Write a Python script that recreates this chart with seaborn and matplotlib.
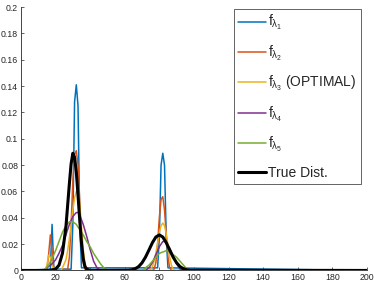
import matplotlib
matplotlib.use("Agg")
import matplotlib.pyplot as plt
import seaborn as sns

# ── Data ──────────────────────────────────────────────────────────────────────
BLUE_X = [0, 17, 18, 19, 29, 30, 31, 32, 33, 34, 35, 79, 80, 81, 82, 83, 84, 85, 200]
BLUE_Y = [0, 0.001, 0.035, 0.001, 0.001, 0.035, 0.128, 0.141, 0.125, 0.035, 0.002,
          0.002, 0.025, 0.080, 0.089, 0.080, 0.025, 0.002, 0]

ORANGE_X = [0, 15, 16, 17, 18, 19, 20, 27, 28, 29, 30, 31, 32, 33, 34, 35, 36, 37, 38,
            76, 77, 78, 79, 80, 81, 82, 83, 84, 85, 86, 87, 200]
ORANGE_Y = [0, 0, 0.012, 0.027, 0.015, 0.002, 0, 0.001, 0.010, 0.035, 0.068, 0.088,
            0.091, 0.080, 0.052, 0.022, 0.006, 0.001, 0,
            0, 0.001, 0.006, 0.020, 0.040, 0.054, 0.056, 0.046, 0.027, 0.010, 0.002, 0, 0]

YELLOW_X = [0, 14, 15, 16, 17, 18, 19, 20, 23, 24, 26, 27, 28, 29, 30, 31, 32, 33, 34,
            35, 36, 37, 38, 39, 74, 75, 76, 77, 78, 79, 80, 81, 82, 83, 84, 85, 86, 87,
            88, 89, 200]
YELLOW_Y = [0, 0, 0.004, 0.0115, 0.010, 0.004, 0.001, 0, 0, 0.002, 0.008, 0.015, 0.024,
            0.035, 0.046, 0.055, 0.060, 0.059, 0.050, 0.033, 0.016, 0.005, 0.001, 0,
            0, 0.001, 0.003, 0.007, 0.013, 0.021, 0.029, 0.034, 0.036, 0.034, 0.028,
            0.019, 0.010, 0.004, 0.001, 0, 0]

PURPLE_X = [0, 13, 14, 16, 18, 20, 22, 24, 26, 28, 30, 32, 33, 34, 36, 38, 40, 42, 44, 46,
            72, 74, 76, 78, 80, 82, 83, 84, 86, 88, 90, 92, 94, 200]
PURPLE_Y = [0, 0, 0.001, 0.003, 0.005, 0.008, 0.013, 0.019, 0.027, 0.035, 0.041, 0.044,
            0.044, 0.042, 0.035, 0.026, 0.016, 0.007, 0.002, 0,
            0, 0.002, 0.006, 0.012, 0.018, 0.022, 0.022, 0.021, 0.017, 0.011, 0.005,
            0.001, 0, 0]

GREEN_X = [0, 13, 14, 16, 18, 20, 22, 24, 26, 28, 30, 32, 34, 36, 38, 40, 42, 44, 46, 48, 50,
           70, 72, 74, 76, 78, 80, 82, 84, 86, 88, 90, 92, 94, 96, 98, 200]
GREEN_Y = [0, 0, 0.001, 0.004, 0.009, 0.015, 0.022, 0.029, 0.034, 0.037, 0.037, 0.035,
           0.031, 0.027, 0.022, 0.018, 0.013, 0.009, 0.005, 0.002, 0,
           0, 0.002, 0.004, 0.007, 0.010, 0.013, 0.014, 0.015, 0.014, 0.012, 0.010,
           0.007, 0.004, 0.001, 0, 0]

TRUE_X = [0, 16, 20, 22, 24, 26, 28, 29, 30, 31, 32, 33, 34, 35, 36, 37, 38, 40,
          62, 64, 66, 68, 70, 72, 74, 76, 78, 80, 82, 84, 86, 88, 90, 92, 94, 96, 98, 200]
TRUE_Y = [0, 0, 0.001, 0.004, 0.013, 0.033, 0.066, 0.081, 0.089, 0.086, 0.075, 0.057,
          0.038, 0.021, 0.009, 0.003, 0.001, 0,
          0.0002, 0.0005, 0.0013, 0.0029, 0.0058, 0.0101, 0.0155, 0.0211, 0.0254, 0.027,
          0.0254, 0.0211, 0.0155, 0.0101, 0.0058, 0.0029, 0.0013, 0.0005, 0.0002, 0]

SERIES = [
    (BLUE_X, BLUE_Y, "#0072BD", r"f$_{\lambda_1}$", 1.1),
    (ORANGE_X, ORANGE_Y, "#D95319", r"f$_{\lambda_2}$", 1.1),
    (YELLOW_X, YELLOW_Y, "#EDB120", r"f$_{\lambda_3}$ (OPTIMAL)", 1.1),
    (PURPLE_X, PURPLE_Y, "#7E2F8E", r"f$_{\lambda_4}$", 1.1),
    (GREEN_X, GREEN_Y, "#77AC30", r"f$_{\lambda_5}$", 1.1),
    (TRUE_X, TRUE_Y, "black", "True Dist.", 2.2),
]

X_TICKS = list(range(0, 201, 20))
Y_TICKS = [0, 0.02, 0.04, 0.06, 0.08, 0.1, 0.12, 0.14, 0.16, 0.18, 0.2]
Y_TICK_LABELS = ["0", "0.02", "0.04", "0.06", "0.08", "0.1", "0.12", "0.14", "0.16", "0.18", "0.2"]

# ── Style ─────────────────────────────────────────────────────────────────────
sns.set_style("ticks")
plt.rcParams["font.family"] = ["Liberation Sans", "DejaVu Sans"]
plt.rcParams["mathtext.fontset"] = "custom"
plt.rcParams["mathtext.rm"] = "Liberation Sans"
plt.rcParams["mathtext.it"] = "Liberation Sans"
plt.rcParams["mathtext.bf"] = "Liberation Sans:bold"

AX_COLOR = "#262626"

fig = plt.figure(figsize=(3.74, 2.85), dpi=100)
ax = fig.add_axes([0.056, 0.051, 0.925, 0.924])

for xs, ys, color, label, lw in SERIES:
    sns.lineplot(x=xs, y=ys, color=color, label=label, linewidth=lw,
                 sort=False, estimator=None, ax=ax)

ax.set_xlim(0, 200)
ax.set_ylim(0, 0.2)
ax.set_xticks(X_TICKS)
ax.set_yticks(Y_TICKS)
ax.set_yticklabels(Y_TICK_LABELS)
ax.tick_params(direction="in", length=2.5, width=0.5, labelsize=6.3,
               colors=AX_COLOR, pad=2)
for side in ["top", "right"]:
    ax.spines[side].set_visible(False)
for side in ["left", "bottom"]:
    ax.spines[side].set_color(AX_COLOR)
    ax.spines[side].set_linewidth(0.6)

leg = ax.legend(loc="upper right", bbox_to_anchor=(0.983, 0.992), fontsize=10,
                frameon=True, fancybox=False, framealpha=1, borderpad=0.3,
                handlelength=2.0, handletextpad=0.2, labelspacing=0.82,
                borderaxespad=0)
leg.get_frame().set_edgecolor(AX_COLOR)
leg.get_frame().set_linewidth(0.5)

fig.savefig("out.png", dpi=100)
